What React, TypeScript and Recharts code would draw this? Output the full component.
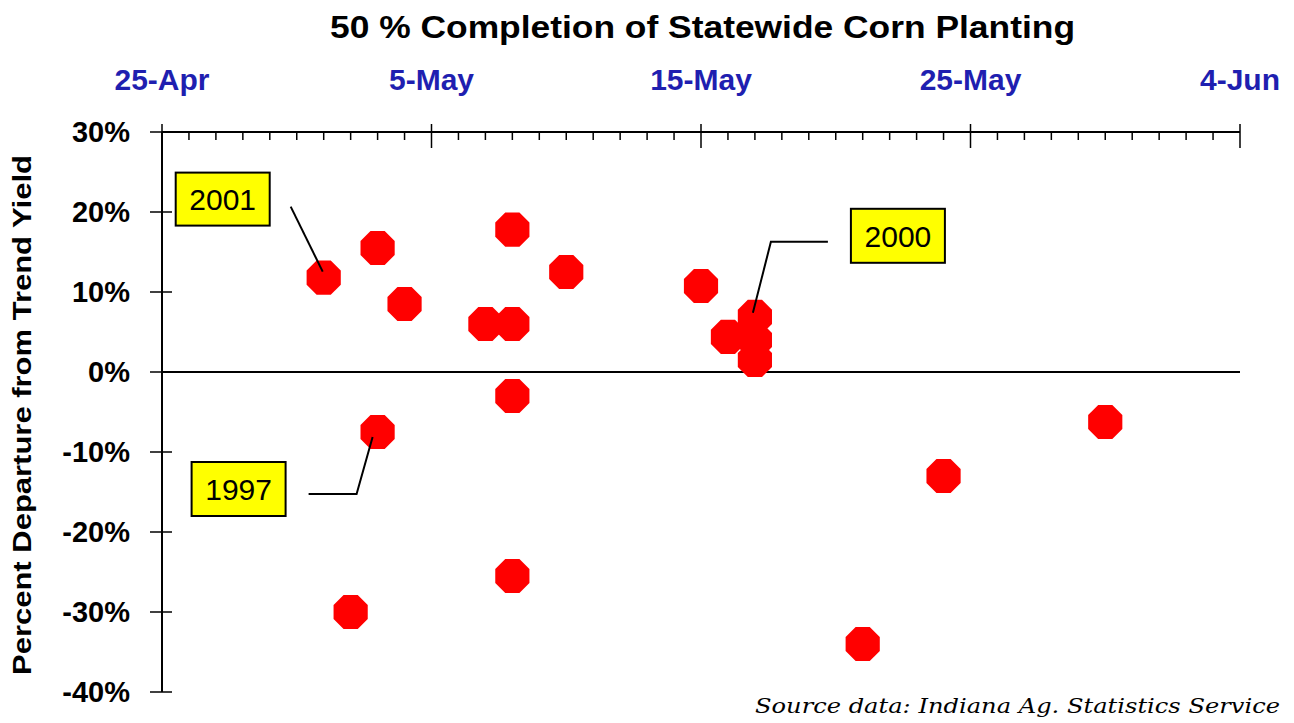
import { ReferenceLine, Scatter, ScatterChart, XAxis, YAxis } from "recharts";

// días contados desde el 25 de abril
const plantingDay = [6, 8, 9, 8, 7, 12, 13, 13, 13, 13, 15, 20, 21, 22, 22, 22, 26, 29, 35];
const departure = [11.8, 15.5, 8.5, -7.5, -30, 6, 6, 17.8, -3, -25.5, 12.5, 10.75, 4.4, 6.9, 4, 1.5, -34, -13, -6.25];

const majorDays = [0, 10, 20, 30, 40];
const majorLabels = ["25-Apr", "5-May", "15-May", "25-May", "4-Jun"];
const dayTicks = Array.from({ length: 41 }, (_, i) => i);
const pctTicks = [-40, -30, -20, -10, 0, 10, 20, 30];

const labelYears = ["2001", "1997", "2000"];
const labelIndex = [0, 3, 13];

// posición de cada recuadro respecto al punto (px)
const calloutLayout: Record<string, { line: number[][]; box: number[] }> = {
  "2001": { line: [[-1, -6], [-33, -71]], box: [-148, -105, 94, 53] },
  "1997": { line: [[-5, 5], [-21, 62], [-69, 62]], box: [-186, 30, 94, 54] },
  "2000": { line: [[-2, -4], [16, -75], [73, -75]], box: [96, -108, 94, 54] },
};

const points = plantingDay.map((day, i) => ({ day, pct: departure[i] }));
const labelled = labelIndex.map((idx, i) => ({ ...points[idx], year: labelYears[i] }));

const X_TICK = 8;
const Y_TICK = 12;

function DateTick(props: any) {
  const { x, y, payload } = props;
  const axisY = y + X_TICK;
  const idx = majorDays.indexOf(payload.value);
  const major = idx >= 0;
  return (
    <g>
      <line
        x1={x}
        x2={x}
        y1={major ? axisY - 8 : axisY}
        y2={major ? axisY + 16 : axisY + 8}
        stroke="#000"
        strokeWidth={1.5}
      />
      {major && (
        <text
          x={x}
          y={axisY - 42}
          textAnchor="middle"
          fill="#1f1fb0"
          fontFamily="Liberation Sans, Arial, sans-serif"
          fontWeight="bold"
          fontSize={30}
        >
          {majorLabels[idx]}
        </text>
      )}
    </g>
  );
}

function PercentTick(props: any) {
  const { x, y, payload } = props;
  const axisX = x + Y_TICK;
  return (
    <g>
      <line x1={axisX - 12} x2={axisX + 10} y1={y} y2={y} stroke="#000" strokeWidth={1.5} />
      <text
        x={axisX - 32}
        y={y}
        dy="0.36em"
        textAnchor="end"
        fill="#000"
        fontFamily="Liberation Sans, Arial, sans-serif"
        fontWeight="bold"
        fontSize={29}
      >
        {payload.value}%
      </text>
    </g>
  );
}

function Octagon(props: any) {
  const { cx, cy } = props;
  const r = 18.5;
  const pts = [];
  for (let k = 0; k < 8; k++) {
    const a = (Math.PI / 8) * (2 * k + 1);
    pts.push(`${cx + r * Math.cos(a)},${cy + r * Math.sin(a)}`);
  }
  return <polygon points={pts.join(" ")} fill="#ff0000" />;
}

function Callout(props: any) {
  const { cx, cy, payload } = props;
  const cfg = calloutLayout[payload.year];
  const [bx, by, bw, bh] = cfg.box;
  const linePts = cfg.line.map(([dx, dy]) => `${cx + dx},${cy + dy}`).join(" ");
  return (
    <g>
      <polyline points={linePts} fill="none" stroke="#000" strokeWidth={2} />
      <rect x={cx + bx} y={cy + by} width={bw} height={bh} fill="#ffff00" stroke="#000" strokeWidth={2} />
      <text
        x={cx + bx + bw / 2}
        y={cy + by + bh / 2}
        dy="0.36em"
        textAnchor="middle"
        fill="#000"
        fontFamily="Liberation Sans, Arial, sans-serif"
        fontSize={30}
      >
        {payload.year}
      </text>
    </g>
  );
}

export default function App() {
  return (
    <div style={{ position: "absolute", left: 0, top: 0, width: 1294, height: 723, background: "#fff" }}>
      <ScatterChart width={1294} height={723} margin={{ top: 0, right: 54, bottom: 31, left: 0 }}>
        <XAxis
          type="number"
          dataKey="day"
          orientation="top"
          domain={[0, 40]}
          ticks={dayTicks}
          interval={0}
          height={132}
          tickSize={X_TICK}
          tickMargin={0}
          tickLine={false}
          tick={<DateTick />}
          axisLine={{ stroke: "#000", strokeWidth: 2 }}
        />
        <YAxis
          type="number"
          dataKey="pct"
          domain={[-40, 30]}
          ticks={pctTicks}
          interval={0}
          width={162}
          tickSize={Y_TICK}
          tickMargin={0}
          tickLine={false}
          tick={<PercentTick />}
          axisLine={{ stroke: "#000", strokeWidth: 2 }}
        />
        <ReferenceLine y={0} stroke="#000" strokeWidth={2} />
        <Scatter data={points} shape={<Octagon />} isAnimationActive={false} />
        <Scatter data={labelled} shape={<Callout />} isAnimationActive={false} />
      </ScatterChart>
      <svg
        width={1294}
        height={723}
        style={{ position: "absolute", left: 0, top: 0, pointerEvents: "none" }}
      >
        <text
          x={330}
          y={38}
          textLength={745}
          lengthAdjust="spacingAndGlyphs"
          fontFamily="Liberation Sans, Arial, sans-serif"
          fontWeight="bold"
          fontSize={31}
          fill="#000"
        >
          50 % Completion of Statewide Corn Planting
        </text>
        <text
          transform="translate(31, 415) rotate(-90)"
          textAnchor="middle"
          textLength={520}
          lengthAdjust="spacingAndGlyphs"
          fontFamily="Liberation Sans, Arial, sans-serif"
          fontWeight="bold"
          fontSize={25}
          fill="#000"
        >
          Percent Departure from Trend Yield
        </text>
        <text
          x={755}
          y={713}
          textLength={525}
          lengthAdjust="spacingAndGlyphs"
          fontFamily="DejaVu Serif, serif"
          fontStyle="italic"
          fontSize={20}
          fill="#000"
        >
          Source data:  Indiana Ag. Statistics Service
        </text>
      </svg>
    </div>
  );
}
